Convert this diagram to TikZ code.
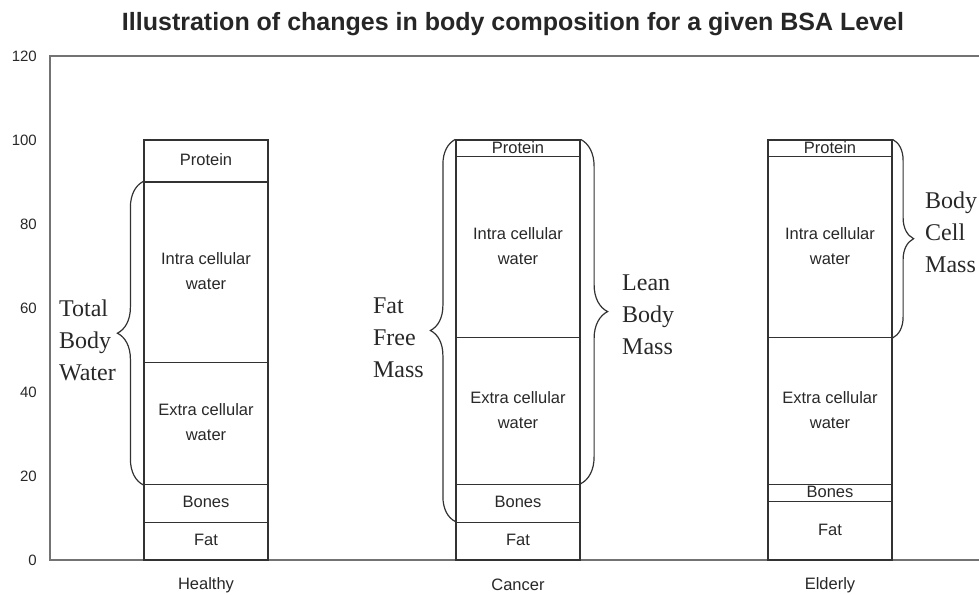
\documentclass[tikz,border=0pt]{standalone}
\usepackage{fontspec}
\setmainfont{Liberation Serif}
\setsansfont{Liberation Sans}
\usetikzlibrary{fit}
\usetikzlibrary{decorations.pathreplacing}

\begin{document}
\begin{tikzpicture}[x=1pt,y=4.2pt,
    seg/.style={draw=dgray, line width=1.2pt, inner sep=0pt},
    segtext/.style={align=center, inner sep=0pt, yshift=1pt, text=tgray,
      font=\sffamily\fontsize{16.5}{25}\selectfont},
    curly/.style={decorate, decoration={brace, amplitude=#1}, draw=dgray, line width=1.2pt},
    mass/.style={align=left, inner sep=0pt, text=tgray, font=\fontsize{24}{32}\selectfont},
    tick/.style={anchor=east, inner sep=0pt, text=tgray, font=\sffamily\fontsize{15}{18}\selectfont},
    group/.style={text=tgray, font=\sffamily\fontsize{16.5}{18}\selectfont}]

\definecolor{dgray}{RGB}{50,50,50}
\definecolor{agray}{RGB}{115,115,115}
\definecolor{tgray}{RGB}{40,40,40}

\useasboundingbox (-50,-8.333) rectangle (929,133.333);

\node[font=\sffamily\bfseries\fontsize{25}{28}\selectfont, text=black!85] (title) at (463,127.6) {Illustration of changes in body composition for a given BSA Level};

% frame and y axis
\draw[agray, line width=1.6pt] (929,120) -- (0,120) -- (0,0) -- (929,0);
\foreach \v in {0,20,...,120}
  \node[tick] (t\v) at (-13,\v) {\v};

% Healthy
\node[seg, fit={(94,0) (218,9)}, label={[segtext]center:Fat}] (hfat) {};
\node[seg, fit={(94,9) (218,18)}, label={[segtext]center:Bones}] (hbone) {};
\node[seg, fit={(94,18) (218,47)}, label={[segtext]center:{Extra cellular\\water}}] (hecw) {};
\node[seg, fit={(94,47) (218,90)}, label={[segtext]center:{Intra cellular\\water}}] (hicw) {};
\node[seg, fit={(94,90) (218,100)}, label={[segtext]center:Protein}] (hprot) {};
\node[group] (healthy) at (156,-5.95) {Healthy};

% Cancer
\node[seg, fit={(406,0) (530,9)}, label={[segtext]center:Fat}] (cfat) {};
\node[seg, fit={(406,9) (530,18)}, label={[segtext]center:Bones}] (cbone) {};
\node[seg, fit={(406,18) (530,53)}, label={[segtext]center:{Extra cellular\\water}}] (cecw) {};
\node[seg, fit={(406,53) (530,96)}, label={[segtext]center:{Intra cellular\\water}}] (cicw) {};
\node[seg, fit={(406,96) (530,100)}, label={[segtext]center:Protein}] (cprot) {};
\node[group] (cancer) at (468,-5.95) {Cancer};

% Elderly
\node[seg, fit={(718,0) (842,14)}, label={[segtext]center:Fat}] (efat) {};
\node[seg, fit={(718,14) (842,18)}, label={[segtext]center:Bones}] (ebone) {};
\node[seg, fit={(718,18) (842,53)}, label={[segtext]center:{Extra cellular\\water}}] (eecw) {};
\node[seg, fit={(718,53) (842,96)}, label={[segtext]center:{Intra cellular\\water}}] (eicw) {};
\node[seg, fit={(718,96) (842,100)}, label={[segtext]center:Protein}] (eprot) {};
\node[group] (elderly) at (780,-5.95) {Elderly};

\draw[curly=26pt] (hecw.south west) -- (hicw.north west) node[mass, midway, anchor=east, xshift=-27pt, yshift=-7pt] (tbw) {Total\\Body\\Water};
\draw[curly=25pt] (cfat.north west) -- (cprot.north west) node[mass, midway, anchor=east, xshift=-31pt, yshift=-7pt] (ffm) {Fat\\Free\\Mass};
\draw[curly=27pt] (cprot.north east) -- (cbone.north east) node[mass, midway, anchor=west, xshift=41pt, yshift=-3pt] (lbm) {Lean\\Body\\Mass};
\draw[curly=21pt] (eprot.north east) -- (eicw.south east) node[mass, midway, anchor=west, xshift=32pt, yshift=6pt] (bcm) {Body\\Cell\\Mass};

\end{tikzpicture}
\end{document}
